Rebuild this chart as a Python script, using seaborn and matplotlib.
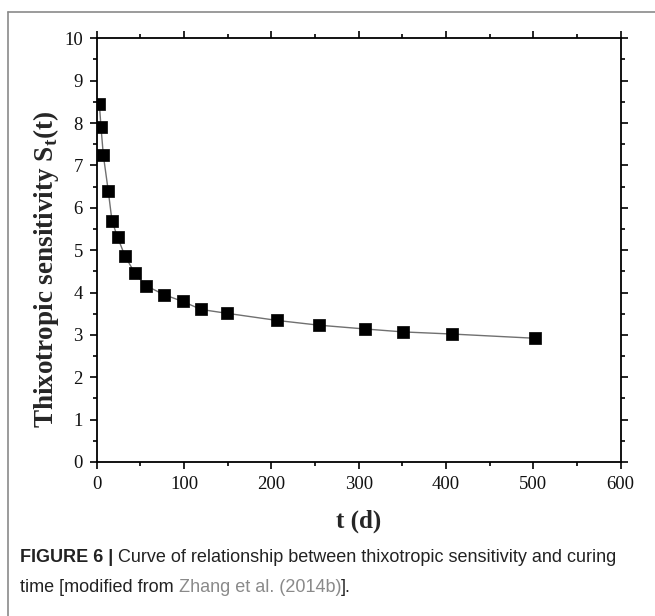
import matplotlib
matplotlib.use("Agg")
import matplotlib.pyplot as plt
import seaborn as sns
import pandas as pd
from matplotlib.ticker import MultipleLocator
from matplotlib.lines import Line2D

t_days = [3.0, 4.9, 7.6, 13.3, 17.5, 24, 32.4, 43.9, 56.5, 77, 98.5, 119.5, 149,
          207, 254, 307, 351, 407, 502]
sensitivity = [8.46, 7.91, 7.24, 6.39, 5.69, 5.30, 4.86, 4.45, 4.16, 3.95, 3.79,
               3.60, 3.51, 3.34, 3.23, 3.14, 3.07, 3.02, 2.92]
x_ticks = [0, 100, 200, 300, 400, 500, 600]
y_ticks = [0, 1, 2, 3, 4, 5, 6, 7, 8, 9, 10]

df = pd.DataFrame({"t": t_days, "S": sensitivity})

sns.set_style("ticks")
serif = ["Liberation Serif", "DejaVu Serif"]
plt.rcParams["mathtext.fontset"] = "custom"
plt.rcParams["mathtext.rm"] = "Liberation Serif:bold"

W, H = 655, 616
fig = plt.figure(figsize=(W / 100, H / 100), dpi=100)
ax = fig.add_axes([96.7 / W, 1 - 462 / H, (620.7 - 96.7) / W, (462 - 38.3) / H])

sns.lineplot(data=df, x="t", y="S", ax=ax, color="#707070", lw=1.0, zorder=2)
sns.scatterplot(data=df, x="t", y="S", ax=ax, marker="s", color="black", s=80,
                edgecolor="black", linewidth=0.5, zorder=3)

ax.set_xlim(0, 600)
ax.set_ylim(0, 10)
ax.set_xticks(x_ticks)
ax.set_yticks(y_ticks)
ax.xaxis.set_minor_locator(MultipleLocator(50))
ax.yaxis.set_minor_locator(MultipleLocator(0.5))
ax.tick_params(which="both", direction="out", top=True, right=True,
               labeltop=False, labelright=False, width=1.2, color="black")
ax.tick_params(which="major", length=5, labelsize=13.5, pad=5, labelcolor="#111111")
ax.tick_params(which="minor", length=3)
for lab in ax.get_xticklabels() + ax.get_yticklabels():
    lab.set_family(serif)
for sp in ax.spines.values():
    sp.set_linewidth(1.3)
    sp.set_color("black")

ax.set_xlabel("t (d)", family=serif, fontweight="bold", fontsize=18, labelpad=12)
ax.set_ylabel(r"Thixotropic sensitivity S$_\mathregular{t}$(t)", family=serif,
              fontweight="bold", fontsize=19.5)
ax.yaxis.set_label_coords(-0.068, 0.455)

# frame
fig.add_artist(Line2D([7.5 / W, 1.0], [1 - 11.7 / H, 1 - 11.7 / H], color="#8a8a8a", lw=1.2))
fig.add_artist(Line2D([7.5 / W, 7.5 / W], [1 - 11.7 / H, 0], color="#8a8a8a", lw=1.2))

cap = ["Liberation Sans Narrow", "Liberation Sans", "DejaVu Sans"]
y1 = 1 - 558 / H
t1 = fig.text(20 / W, y1, "FIGURE 6 | ", family=cap, fontweight="bold", fontsize=13,
              va="center", color="#222222")
fig.canvas.draw()
bb = t1.get_window_extent()
fig.text(bb.x1 / W, y1, "Curve of relationship between thixotropic sensitivity and curing",
         family=cap, fontsize=13, va="center", color="#222222")
y2 = 1 - 588 / H
t2 = fig.text(20 / W, y2, "time [modified from ", family=cap, fontsize=13, va="center",
              color="#222222")
fig.canvas.draw()
bb2 = t2.get_window_extent()
t3 = fig.text(bb2.x1 / W, y2, "Zhang et al. (2014b)", family=cap, fontsize=13, va="center",
              color="#8a8a8a")
fig.canvas.draw()
bb3 = t3.get_window_extent()
fig.text(bb3.x1 / W, y2, "].", family=cap, fontsize=13, va="center", color="#222222")

fig.savefig("out.png", dpi=100)
